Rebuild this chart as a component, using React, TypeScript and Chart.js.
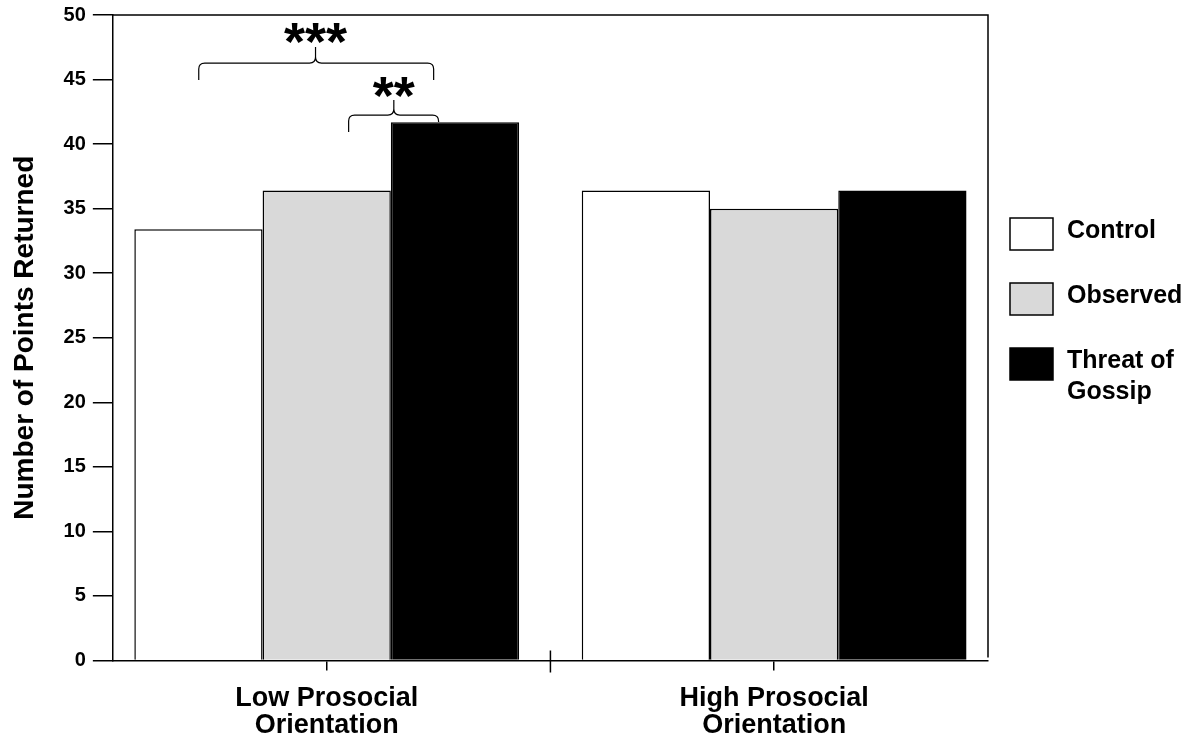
import React, { useEffect, useRef } from 'react';
import { Chart, registerables } from 'chart.js';

Chart.register(...registerables);

const FONT = "'Liberation Sans', Arial, sans-serif";

// Categories (x positions are their indexes)
const categoryLabels = [
  ['Low Prosocial', 'Orientation'],
  ['High Prosocial', 'Orientation'],
];
const categoryPositions = [0, 1];

// Series
const seriesNames = ['Control', 'Observed', 'Threat of Gossip'];
const legendLines = [['Control'], ['Observed'], ['Threat of', 'Gossip']];
const controlValues = [33.4, 36.4];
const observedValues = [36.4, 35.0];
const threatValues = [41.7, 36.4];
const seriesColors = ['#ffffff', '#d9d9d9', '#000000'];

// Axis ranges
const yMin = 0;
const yMax = 50;
const yStep = 5;
const xMin = -0.478;
const xMax = 1.478;

// Significance braces (data units)
const braceXStart = [-0.286, 0.049];
const braceXEnd = [0.239, 0.25];
const braceXPeak = [-0.025, 0.15];
const braceY = [46.28, 42.25];
const braceLeftEndY = [44.96, 40.93];
const braceRightEndY = [44.96, 41.71];
const bracePeakY = [47.52, 43.41];
const braceLabels = ['***', '**'];
const braceLabelY = [48.57, 44.38];

const overlayPlugin = {
  id: 'overlay',
  afterDraw(chart: any) {
    const { ctx, chartArea: a } = chart;
    const xs = chart.scales.x;
    const ys = chart.scales.y;
    ctx.save();
    ctx.strokeStyle = '#000';
    ctx.lineWidth = 1.5;
    // frame top + right
    ctx.beginPath();
    ctx.moveTo(a.left, a.top);
    ctx.lineTo(a.right, a.top);
    ctx.lineTo(a.right, a.bottom - 3);
    ctx.stroke();
    // divider tick between groups
    const dx = xs.getPixelForValue((categoryPositions[0] + categoryPositions[1]) / 2);
    ctx.beginPath();
    ctx.moveTo(dx, a.bottom - 10);
    ctx.lineTo(dx, a.bottom + 12);
    ctx.stroke();

    // braces
    ctx.lineWidth = 1.2;
    const r = 6;
    for (let i = 0; i < braceLabels.length; i++) {
      const x1 = xs.getPixelForValue(braceXStart[i]);
      const x2 = xs.getPixelForValue(braceXEnd[i]);
      const xp = xs.getPixelForValue(braceXPeak[i]);
      const yb = ys.getPixelForValue(braceY[i]);
      const yl = ys.getPixelForValue(braceLeftEndY[i]);
      const yr = ys.getPixelForValue(braceRightEndY[i]);
      const yp = ys.getPixelForValue(bracePeakY[i]);
      ctx.beginPath();
      ctx.moveTo(x1, yl);
      ctx.lineTo(x1, yb + r);
      ctx.quadraticCurveTo(x1, yb, x1 + r, yb);
      ctx.lineTo(xp - r, yb);
      ctx.quadraticCurveTo(xp, yb, xp, yb - r);
      ctx.lineTo(xp, yp);
      ctx.moveTo(xp, yb - r);
      ctx.quadraticCurveTo(xp, yb, xp + r, yb);
      ctx.lineTo(x2 - r, yb);
      ctx.quadraticCurveTo(x2, yb, x2, yb + r);
      ctx.lineTo(x2, yr);
      ctx.stroke();

      ctx.font = `bold 54px ${FONT}`;
      ctx.fillStyle = '#000';
      ctx.textAlign = 'center';
      ctx.textBaseline = 'alphabetic';
      const m = ctx.measureText(braceLabels[i]);
      const cy = ys.getPixelForValue(braceLabelY[i]);
      const base = cy - (m.actualBoundingBoxDescent - m.actualBoundingBoxAscent) / 2;
      ctx.fillText(braceLabels[i], xp, base);
    }

    // legend
    const boxX = a.right + 22;
    const boxY0 = a.top + 203;
    const step = 65;
    ctx.font = `bold 25px ${FONT}`;
    ctx.textAlign = 'left';
    ctx.textBaseline = 'alphabetic';
    chart.data.datasets.forEach((ds: any, i: number) => {
      const by = boxY0 + i * step;
      ctx.fillStyle = ds.backgroundColor;
      ctx.fillRect(boxX, by, 43, 32);
      ctx.lineWidth = 1.5;
      ctx.strokeStyle = '#000';
      ctx.strokeRect(boxX, by, 43, 32);
      ctx.fillStyle = '#000';
      legendLines[i].forEach((line, j) => {
        ctx.fillText(line, boxX + 57, by + 20 + j * 31);
      });
    });
    ctx.restore();
  },
};

export default function App() {
  const ref = useRef<HTMLCanvasElement>(null);
  useEffect(() => {
    const canvas = ref.current;
    if (!canvas) return;
    document.body.style.margin = '0';
    const mk = (vals: number[]) => categoryPositions.map((x, i) => ({ x, y: vals[i] }));
    const common = {
      borderColor: '#000',
      borderWidth: 1.5,
      categoryPercentage: 0.86,
      barPercentage: 1,
    };
    const chart = new Chart(canvas, {
      type: 'bar',
      data: {
        datasets: [
          { label: seriesNames[0], data: mk(controlValues), backgroundColor: seriesColors[0], ...common },
          { label: seriesNames[1], data: mk(observedValues), backgroundColor: seriesColors[1], ...common },
          { label: seriesNames[2], data: mk(threatValues), backgroundColor: seriesColors[2], ...common },
        ],
      } as any,
      options: {
        animation: false,
        responsive: true,
        maintainAspectRatio: false,
        layout: { padding: { left: 4, right: 205, top: 15, bottom: -7.5 } },
        plugins: {
          legend: { display: false },
          tooltip: { enabled: false },
        },
        scales: {
          x: {
            type: 'linear',
            min: xMin,
            max: xMax,
            offset: false,
            afterBuildTicks: (s: any) => {
              s.ticks = categoryPositions.map((v) => ({ value: v }));
            },
            ticks: {
              callback: (v: any) => {
                const idx = categoryPositions.indexOf(Number(v));
                return idx >= 0 ? categoryLabels[idx] : '';
              },
              font: { family: FONT, size: 27, weight: 'bold', lineHeight: 1.0 },
              color: '#000',
              padding: 14.5,
              maxRotation: 0,
              autoSkip: false,
            },
            grid: { offset: false, drawOnChartArea: false, tickLength: 10, color: '#000', lineWidth: 1.5 },
            border: { color: '#000', width: 1.5 },
          },
          y: {
            min: yMin,
            max: yMax,
            ticks: {
              stepSize: yStep,
              font: { family: FONT, size: 20, weight: 'bold', lineHeight: 0.5 },
              color: '#000',
              padding: 7,
            },
            grid: { drawOnChartArea: false, tickLength: 20, color: '#000', lineWidth: 1.5 },
            border: { color: '#000', width: 1.5 },
            title: {
              display: true,
              text: 'Number of Points Returned',
              font: { family: FONT, size: 28, weight: 'bold' },
              color: '#000',
              padding: { top: 4, bottom: 15 },
            },
          },
        },
      } as any,
      plugins: [overlayPlugin],
    });
    return () => chart.destroy();
  }, []);
  return (
    <div style={{ position: 'fixed', left: 0, top: 0, width: 1193, height: 746, background: '#fff' }}>
      <canvas ref={ref} />
    </div>
  );
}
